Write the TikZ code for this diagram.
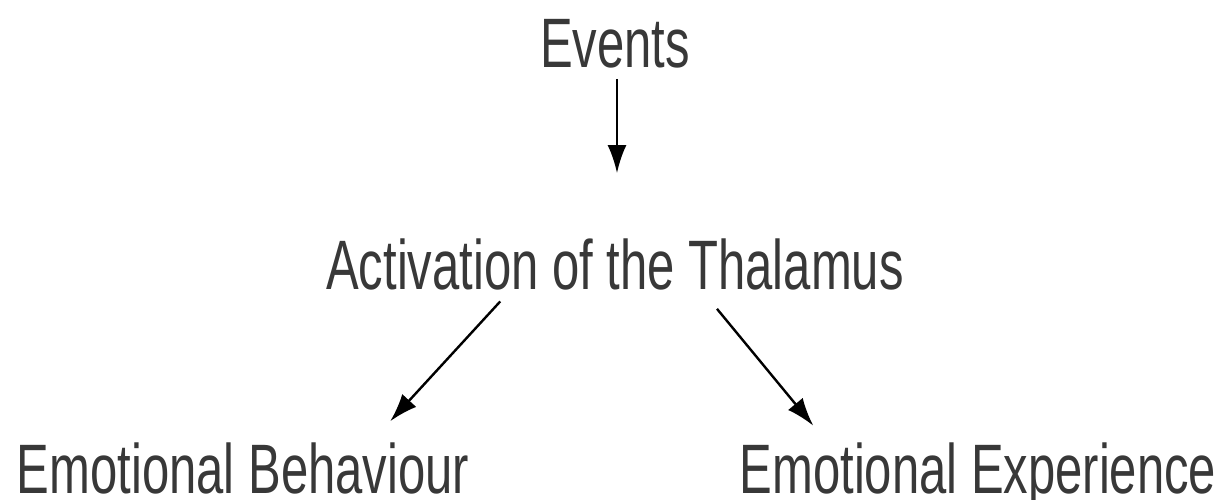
\documentclass[tikz,border=0pt]{standalone}
\usepackage{fontspec}
\newfontfamily\narrowsf[FakeStretch=0.7]{Liberation Sans}
\usepackage{tikz}
\usetikzlibrary{arrows.meta,positioning}
\tikzstyle{txt}=[inner sep=0pt, anchor=base, text=black!78, font=\narrowsf\fontsize{70bp}{80bp}\selectfont]
\begin{document}
\begin{tikzpicture}[x=1bp, y=-1bp, line width=2.4bp, >={Latex[length=28bp,width=19bp]}]
                        \useasboundingbox (0,0) rectangle (1222,500);
                        \node [txt] (ev) at (615,68) {Events};
                        \node [txt] (act) at (615,290) {Activation of the Thalamus};
                        \node [txt] (beh) at (243,493) {Emotional Behaviour};
                        \node [txt] (exp) at (978,493) {Emotional Experience};
                        \path[->] ([xshift=2bp]ev.south) edge[shorten <=9bp, shorten >=65bp] ([xshift=2bp]act.north);
                        \path[->] ([xshift=-106bp]act.south) edge[shorten <=13bp, shorten >=27bp] ([xshift=129bp]beh.north);
                        \path[->] ([xshift=88bp]act.south) edge[shorten <=22bp, shorten >=20bp] ([xshift=-152bp]exp.north);
                    \end{tikzpicture}
\end{document}
